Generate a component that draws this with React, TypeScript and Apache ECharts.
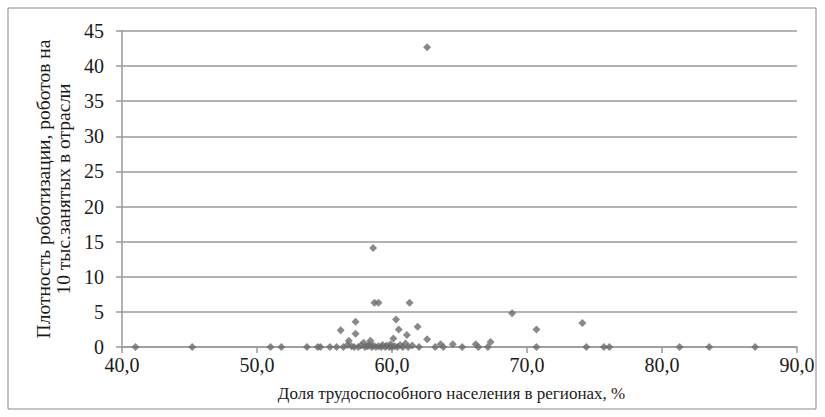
import React, { useEffect, useRef } from "react";
import * as echarts from "echarts";

const xValues: number[] = [
  41.0, 45.2, 51.0, 51.8, 53.7, 54.5, 54.7, 55.4, 55.9, 56.2, 56.4, 56.7, 56.8, 57.0, 57.2, 57.3, 57.3,
  57.5, 57.7, 57.9, 58.0, 58.2, 58.3, 58.4, 58.5, 58.6, 58.6, 58.7, 58.8, 59.0, 59.0, 59.2, 59.3, 59.5,
  59.6, 59.8, 59.9, 60.0, 60.1, 60.2, 60.3, 60.4, 60.5, 60.6, 60.8, 61.0, 61.1, 61.2, 61.3, 61.5, 61.9,
  62.0, 62.6, 62.6, 63.2, 63.6, 63.8, 64.5, 65.2, 66.2, 66.4, 67.1, 67.3, 68.9, 70.7, 70.7, 74.1, 74.4,
  75.7, 76.1, 81.3, 83.5, 86.9,
];
const yValues: number[] = [
  0, 0, 0, 0, 0, 0, 0, 0, 0, 2.4, 0, 0.3, 0.9, 0.1, 0, 1.9, 3.6,
  0, 0.2, 0.6, 0, 0.1, 0.3, 0.9, 0, 14.1, 0.2, 6.3, 0, 6.3, 0.1, 0, 0.3, 0,
  0.2, 0, 0.4, 0, 1.2, 0.1, 3.9, 0, 2.5, 0.3, 0, 0.5, 1.7, 0, 6.3, 0.2, 2.9,
  0, 42.7, 1.1, 0, 0.4, 0, 0.4, 0, 0.4, 0, 0, 0.7, 4.8, 2.5, 0, 3.4, 0,
  0, 0, 0, 0, 0,
];

const xTickLabels = (v: number) => v.toFixed(1).replace(".", ",");
const xAxisName = "Доля трудоспособного населения в регионах, %";
const yAxisName = "Плотность роботизации, роботов на\n10 тыс.занятых в отрасли";

const FONT = "Liberation Serif";

export default function App() {
  const ref = useRef<HTMLDivElement>(null);
  useEffect(() => {
    if (!ref.current) return;
    const chart = echarts.init(ref.current, null, { renderer: "svg" });
    const data = xValues.map((x, i) => [x, yValues[i]]);
    chart.setOption({
      animation: false,
      backgroundColor: "#ffffff",
      textStyle: { fontFamily: FONT },
      graphic: [
        {
          type: "rect",
          shape: { x: 8, y: 8, width: 808, height: 401 },
          style: { fill: "none", stroke: "#8a8a8a", lineWidth: 1 },
          silent: true,
        },
      ],
      grid: { left: 122, right: 28, top: 31, bottom: 70, containLabel: false },
      xAxis: {
        type: "value",
        min: 40,
        max: 90,
        interval: 10,
        name: xAxisName,
        nameLocation: "middle",
        nameGap: 38,
        nameTextStyle: { fontFamily: FONT, fontSize: 17, color: "#1a1a1a", padding: [0, 16, 0, 0] },
        axisLine: { show: true, onZero: false, lineStyle: { color: "#9a9a9a", width: 1.5 } },
        axisTick: { show: true, inside: false, length: 6, lineStyle: { color: "#9a9a9a", width: 1.5 } },
        axisLabel: {
          formatter: xTickLabels,
          fontFamily: FONT,
          fontSize: 20,
          color: "#1a1a1a",
          margin: 8,
        },
        splitLine: { show: false },
      },
      yAxis: {
        type: "value",
        min: 0,
        max: 45,
        interval: 5,
        name: yAxisName,
        nameLocation: "middle",
        nameGap: 47,
        nameRotate: 90,
        nameTextStyle: { fontFamily: FONT, fontSize: 19.5, color: "#1a1a1a", lineHeight: 20 },
        axisLine: { show: true, lineStyle: { color: "#9a9a9a", width: 1.5 } },
        axisTick: { show: true, inside: false, length: 6, lineStyle: { color: "#9a9a9a", width: 1.5 } },
        axisLabel: { fontFamily: FONT, fontSize: 20, color: "#1a1a1a", margin: 18 },
        splitLine: { show: true, lineStyle: { color: "#9a9a9a", width: 1.5 } },
      },
      series: [
        {
          type: "scatter",
          data,
          symbol: "diamond",
          symbolSize: 8,
          itemStyle: { color: "#6b6b6b" },
        },
      ],
    });
    return () => chart.dispose();
  }, []);
  return (
    <div
      ref={ref}
      style={{ position: "fixed", left: 0, top: 0, width: 825, height: 417 }}
    />
  );
}
